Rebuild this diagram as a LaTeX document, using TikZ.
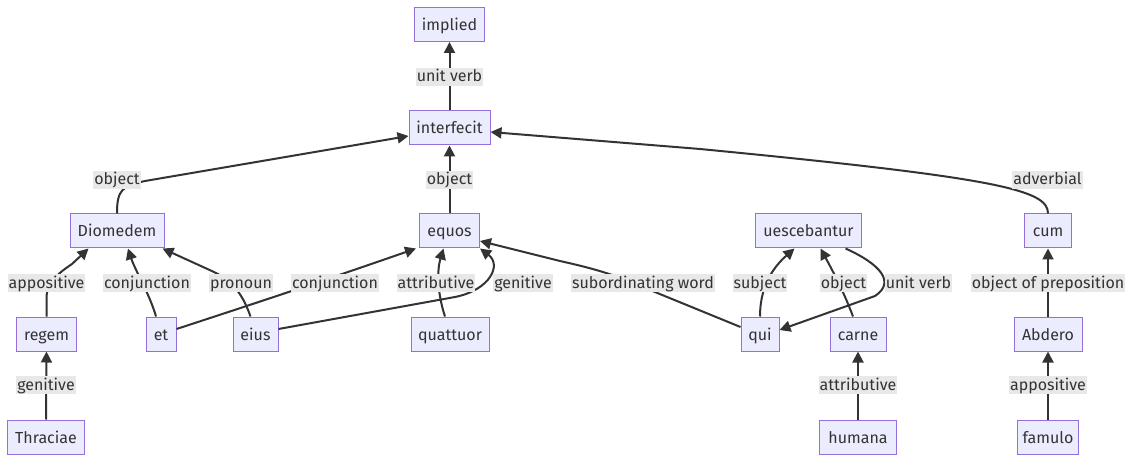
\documentclass[tikz,border=0pt]{standalone}
\usepackage{fontspec}
\setmainfont{Fira Sans}
\usetikzlibrary{arrows.meta,calc}
\definecolor{nodefill}{HTML}{ECECFF}
\definecolor{nodedraw}{HTML}{9370DB}
\definecolor{ink}{HTML}{333333}
\definecolor{labelbg}{HTML}{E8E8E8}
\begin{document}
\begin{tikzpicture}[x=1pt,y=-1pt,
  word/.style={draw=nodedraw,fill=nodefill,line width=1pt,minimum height=34pt,inner sep=0pt,
    text height=16pt,text depth=4pt,text=ink,font=\fontsize{16}{19}\selectfont},
  lbl/.style={fill=labelbg,inner xsep=1pt,inner ysep=1pt,text height=13pt,text depth=3pt,
    text=ink,font=\fontsize{16}{19}\selectfont},
  edge/.style={draw=ink,line width=2pt,-{Triangle[length=11pt,width=11pt]}}]
\useasboundingbox (0,0) rectangle (1132,462);
% nodes
\node[word,minimum width=70pt] (implied) at (449.5,24.5) {implied};
\node[word,minimum width=81pt] (interfecit) at (449.5,128) {interfecit};
\node[word,minimum width=94pt] (Diomedem) at (117,231) {Diomedem};
\node[word,minimum width=60pt] (equos) at (449.5,231) {equos};
\node[word,minimum width=106pt] (uescebantur) at (808.5,231) {uescebantur};
\node[word,minimum width=47pt] (cum) at (1048,231) {cum};
\node[word,minimum width=60pt] (regem) at (46.5,334) {regem};
\node[word,minimum width=30pt] (et) at (161,334) {et};
\node[word,minimum width=45pt] (eius) at (255.5,334) {eius};
\node[word,minimum width=78pt] (quattuor) at (450,334) {quattuor};
\node[word,minimum width=38pt] (qui) at (760,334) {qui};
\node[word,minimum width=56pt] (carne) at (858,334) {carne};
\node[word,minimum width=68pt] (Abdero) at (1048,334) {Abdero};
\node[word,minimum width=77pt] (Thraciae) at (46,437) {Thraciae};
\node[word,minimum width=77pt] (humana) at (858,437) {humana};
\node[word,minimum width=61pt] (famulo) at (1048,437) {famulo};
% edges
\draw[edge] (interfecit.north) -- (implied.south);
\draw[edge] (Diomedem.north) .. controls (117,190) and (122,186) .. (145,181) -- ($(interfecit.west)+(0,8)$);
\draw[edge] (equos.north) -- (interfecit.south);
\draw[edge] (cum.north) .. controls (1048,190) and (1000,178) .. (700,149) -- ($(interfecit.east)+(0,4)$);
\draw[edge] (regem.north) -- (46.5,298) .. controls (46.5,282) and (60,272) .. (72,264) -- ($(Diomedem.south west)+(19,0)$);
\draw[edge] ($(et.north)+(-5,0)$) .. controls (150,295) and (135,270) .. ($(Diomedem.south)+(11,0)$);
\draw[edge] ($(eius.north)+(-5,0)$) .. controls (244,298) and (235,282) .. (214,272) -- ($(Diomedem.south east)+(-2,0)$);
\draw[edge] ($(et.east)+(0,-5)$) .. controls (290,292) and (360,268) .. ($(equos.south west)+(-3,0)$);
\draw[edge] ($(quattuor.north)+(-5,0)$) .. controls (437,292) and (437,270) .. ($(equos.south)+(-6,0)$);
\draw[edge] ($(eius.east)+(0,-5)$) -- (455,297) .. controls (490,290) and (502,265) .. (equos.south east);
\draw[edge] ($(qui.west)+(0,-7)$) -- (650,290) .. controls (615,275) and (600,270) .. (560,261) -- ($(equos.east)+(0,10)$);
\draw[edge] (qui.north) .. controls (760,290) and (770,270) .. ($(uescebantur.south)+(-14,0)$);
\draw[edge] ($(carne.north)+(-5,0)$) .. controls (845,295) and (835,275) .. ($(uescebantur.south)+(12,0)$);
\draw[edge] ($(uescebantur.south)+(37,0)$) .. controls (880,264) and (896,282) .. (875,296) -- ($(qui.east)+(0,-4)$);
\draw[edge] (Abdero.north) -- (cum.south);
\draw[edge] (Thraciae.north) -- (regem.south);
\draw[edge] (humana.north) -- (carne.south);
\draw[edge] (famulo.north) -- (Abdero.south);
% labels
\node[lbl] (l1) at (449.5,77) {unit verb};
\node[lbl] (l2) at (117,180) {object};
\node[lbl] (l3) at (449.5,180) {object};
\node[lbl] (l4) at (1047.5,180) {adverbial};
\node[lbl] (l5) at (46.5,283) {appositive};
\node[lbl] (l6) at (147,283) {conjunction};
\node[lbl] (l7) at (241,283) {pronoun};
\node[lbl] (l8) at (335,283) {conjunction};
\node[lbl] (l9) at (436,283) {attributive};
\node[lbl] (l10) at (523,283) {genitive};
\node[lbl] (l11) at (643,283) {subordinating word};
\node[lbl] (l12) at (760,283) {subject};
\node[lbl] (l13) at (843.5,283) {object};
\node[lbl] (l14) at (918.5,283) {unit verb};
\node[lbl] (l15) at (1048,283) {object of preposition};
\node[lbl] (l16) at (46,385) {genitive};
\node[lbl] (l17) at (858,385) {attributive};
\node[lbl] (l18) at (1048,385) {appositive};
\end{tikzpicture}
\end{document}
